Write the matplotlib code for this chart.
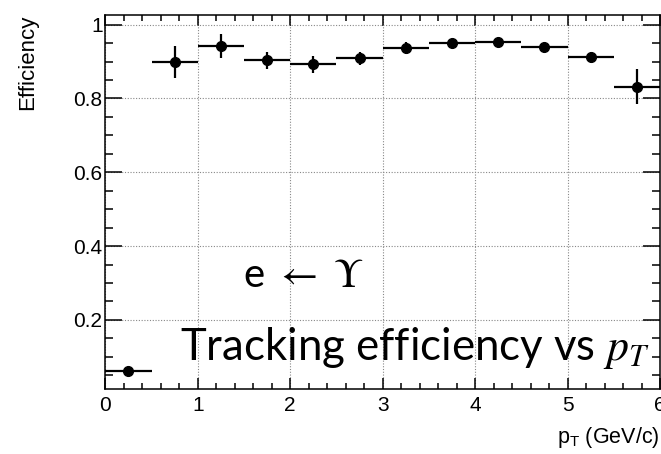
import numpy as np
import matplotlib
matplotlib.use("Agg")
import matplotlib.pyplot as plt
from matplotlib.ticker import MultipleLocator

# tracking efficiency per pT bin (bin centres, half widths, value, errors)
pt_centers = [0.25, 0.75, 1.25, 1.75, 2.25, 2.75, 3.25, 3.75, 4.25, 4.75, 5.25, 5.75]
pt_halfwidth = [0.25] * 12
efficiency = [0.063, 0.898, 0.942, 0.904, 0.893, 0.909, 0.937, 0.950, 0.953, 0.939, 0.912, 0.830]
err_low = [0.004, 0.044, 0.033, 0.023, 0.023, 0.018, 0.016, 0.012, 0.008, 0.007, 0.015, 0.046]
err_high = [0.004, 0.044, 0.033, 0.023, 0.023, 0.018, 0.016, 0.012, 0.008, 0.007, 0.015, 0.049]

plt.rcParams['font.family'] = ['Liberation Sans', 'DejaVu Sans']
plt.rcParams['mathtext.fontset'] = 'custom'
plt.rcParams['mathtext.rm'] = 'Liberation Sans'
plt.rcParams['mathtext.it'] = 'Liberation Sans:italic'

fig = plt.figure(figsize=(6.61, 4.54), dpi=100)
ax = fig.add_axes([0.1593, 0.1432, 0.8392, 0.8238])

ax.errorbar(pt_centers, efficiency, xerr=pt_halfwidth, yerr=[err_low, err_high],
            fmt='o', color='black', ms=7, elinewidth=1.6, capsize=0, zorder=3)

ax.set_xlim(0, 6)
ax.set_ylim(0.013, 1.026)
ax.xaxis.set_minor_locator(MultipleLocator(0.2))
ax.yaxis.set_minor_locator(MultipleLocator(0.05))
ax.set_yticks([0.2, 0.4, 0.6, 0.8, 1.0])
ax.set_yticklabels(['0.2', '0.4', '0.6', '0.8', '1'])
ax.set_xticks([0, 1, 2, 3, 4, 5, 6])
ax.set_xticklabels(['0', '1', '2', '3', '4', '5', '6'])

ax.tick_params(which='both', direction='in', top=True, right=True, width=1.1, labelsize=15)
ax.tick_params(axis='x', which='major', length=8, pad=5)
ax.tick_params(axis='x', which='minor', length=4)
ax.tick_params(axis='y', which='major', length=12.5, pad=2)
ax.tick_params(axis='y', which='minor', length=6)
for s in ax.spines.values():
    s.set_linewidth(1.1)

ax.grid(True, which='major', color='#888888', linestyle=(0, (1, 1.5)), linewidth=0.8)
ax.set_axisbelow(True)

fig.text(0.998, 0.024, r'p$_{\mathrm{T}}$ (GeV/c)', ha='right', va='baseline', fontsize=15.5)
fig.text(0.042, 0.967, 'Efficiency', rotation=90, ha='center', va='top', fontsize=16)

fig.text(0.367, 0.368, r'e $\leftarrow$ $\Upsilon$', fontsize=29, family='Lato',
         math_fontfamily='stix', va='baseline')
fig.text(0.2723, 0.207, r'Tracking efficiency vs $p_T$', fontsize=31.5, family='Lato',
         math_fontfamily='stix', va='baseline')

fig.savefig('out.png', dpi=100)
